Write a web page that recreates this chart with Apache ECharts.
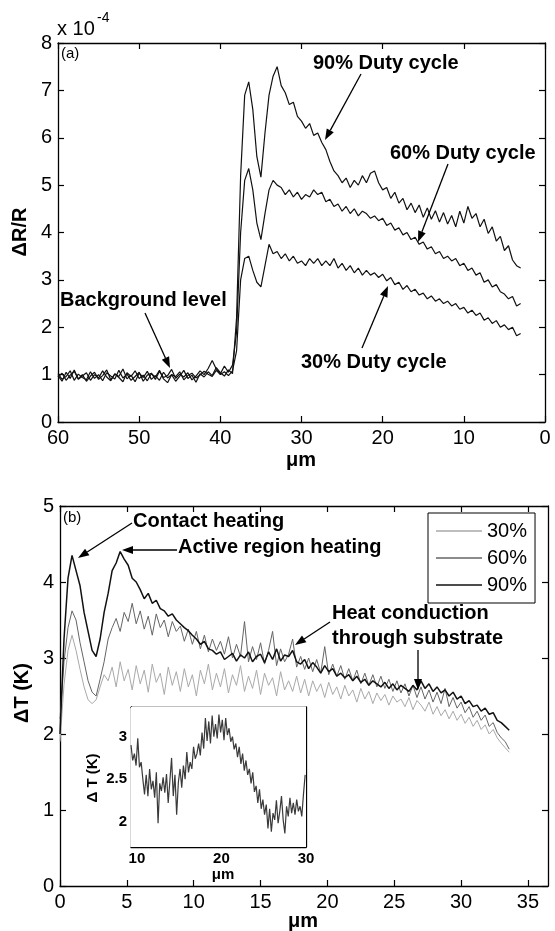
<!DOCTYPE html>
<html>
<head>
<meta charset="utf-8">
<title>Duty cycle thermoreflectance</title>
<script src="https://cdn.jsdelivr.net/npm/echarts@6/dist/echarts.min.js"></script>
<style>
html, body { margin: 0; padding: 0; background: #fff; }
#chart { width: 555px; height: 931px; }
</style>
</head>
<body>
<div id="chart"></div>
<script>
// (a) dR/R (x 1e-4) vs position, x from 60 down to 3 um, step 0.5
var aStart = 60, aStep = -0.5;
var a90 = [
	0.98,0.86,1.05,0.92,1.10,0.90,0.97,1.04,0.88,1.00,
	0.93,1.08,0.95,0.87,1.02,0.96,1.12,0.91,0.99,0.85,
	1.03,0.94,1.07,0.90,0.98,0.88,1.05,0.93,1.00,0.86,
	0.97,1.09,0.92,0.99,0.84,1.02,0.95,1.06,0.98,1.15,
	1.04,0.97,1.10,1.02,2.20,5.20,6.90,7.18,6.60,5.60,
	5.17,6.10,6.90,7.30,7.50,7.10,6.95,6.70,6.75,6.45,
	6.35,6.20,6.30,6.05,6.10,5.90,5.75,5.50,5.30,5.20,
	5.05,5.15,4.95,5.10,5.00,5.20,5.05,5.25,5.30,5.05,
	4.90,4.95,4.72,4.85,4.62,4.72,4.48,4.62,4.42,4.58,
	4.32,4.52,4.28,4.46,4.22,4.42,4.18,4.36,4.12,4.45,
	4.20,4.55,4.30,4.40,4.12,4.28,3.98,4.12,3.82,3.92,
	3.62,3.72,3.42,3.30,3.25
];
var a60 = [
	1.02,0.90,0.96,1.08,0.88,1.01,0.94,0.89,1.06,0.92,
	1.00,0.87,1.04,0.97,0.91,1.09,0.93,1.01,0.88,0.96,
	1.05,0.86,0.99,1.03,0.90,1.07,0.94,0.98,1.11,0.92,
	1.01,0.95,1.04,0.89,0.97,1.08,1.00,1.13,1.30,1.12,
	1.02,1.18,1.05,1.20,1.90,4.00,5.10,5.35,4.90,4.20,
	3.85,4.40,4.90,5.10,5.00,4.95,4.80,4.90,4.75,4.85,
	4.70,4.80,4.75,4.90,4.80,4.85,4.65,4.70,4.55,4.60,
	4.45,4.55,4.40,4.50,4.35,4.45,4.40,4.30,4.35,4.25,
	4.30,4.15,4.20,4.05,4.10,3.95,4.00,3.85,3.90,3.75,
	3.80,3.65,3.70,3.55,3.60,3.45,3.50,3.40,3.45,3.30,
	3.35,3.20,3.25,3.10,3.15,2.95,3.00,2.85,2.90,2.75,
	2.70,2.60,2.65,2.45,2.50
];
var a30 = [
	0.95,1.03,0.88,0.99,1.07,0.91,1.00,0.86,0.97,1.05,
	0.90,0.98,1.10,0.89,1.01,0.94,0.85,1.04,0.96,1.08,
	0.92,0.99,0.87,1.02,0.95,1.09,0.91,0.83,1.00,0.96,
	1.06,0.89,0.98,1.03,0.93,0.99,1.07,1.01,0.96,1.09,
	1.00,1.06,0.98,1.08,1.50,3.00,3.45,3.50,3.20,2.95,
	2.85,3.30,3.75,3.55,3.60,3.45,3.55,3.40,3.50,3.35,
	3.40,3.30,3.45,3.35,3.45,3.30,3.40,3.30,3.45,3.25,
	3.35,3.20,3.30,3.15,3.25,3.10,3.20,3.10,3.15,3.05,
	3.12,2.98,3.05,2.90,2.95,2.80,2.88,2.75,2.80,2.68,
	2.72,2.60,2.66,2.55,2.60,2.50,2.55,2.45,2.50,2.38,
	2.42,2.30,2.36,2.25,2.30,2.15,2.20,2.08,2.14,2.00,
	2.05,1.95,2.00,1.82,1.87
];

// (b) temperature rise vs position, x from 0 um, step 0.3
var bStart = 0, bStep = 0.3;
var b30 = [
	1.90,2.65,3.10,3.30,3.10,2.85,2.62,2.45,2.40,2.45,
	2.62,2.78,2.70,2.88,2.62,2.95,2.70,2.85,2.58,2.90,
	2.66,2.84,2.55,2.92,2.68,2.80,2.52,2.88,2.64,2.82,
	2.56,2.86,2.62,2.78,2.50,2.84,2.66,2.92,2.58,2.80,
	2.62,2.86,2.54,2.78,2.64,2.90,2.56,2.76,2.60,2.84,
	2.52,2.80,2.64,2.74,2.50,2.82,2.58,2.70,2.56,2.76,
	2.54,2.72,2.50,2.70,2.56,2.66,2.48,2.68,2.52,2.62,
	2.46,2.64,2.50,2.58,2.42,2.60,2.46,2.56,2.40,2.54,
	2.44,2.52,2.38,2.50,2.42,2.46,2.36,2.48,2.32,2.44,
	2.38,2.30,2.42,2.26,2.36,2.24,2.32,2.20,2.30,2.18,
	2.26,2.14,2.22,2.10,2.18,2.06,2.12,2.00,2.06,1.95,
	1.88,1.82,1.76
];
var b60 = [
	2.20,2.95,3.40,3.62,3.50,3.20,2.95,2.70,2.55,2.50,
	2.72,2.95,3.25,3.40,3.52,3.35,3.60,3.48,3.72,3.45,
	3.62,3.38,3.55,3.30,3.58,3.40,3.50,3.28,3.48,3.35,
	3.42,3.22,3.38,3.18,3.35,3.12,3.30,3.08,3.25,3.10,
	3.22,3.05,3.28,3.00,3.18,3.02,3.48,2.95,3.15,2.98,
	3.20,2.92,3.10,3.35,2.90,3.12,2.95,3.05,3.25,2.88,
	3.02,2.85,3.00,2.82,2.98,2.80,3.15,2.78,2.92,2.76,
	2.90,2.72,2.86,2.70,2.84,2.66,2.80,2.64,2.78,2.62,
	2.76,2.60,2.72,2.56,2.70,2.54,2.66,2.50,2.64,2.48,
	2.62,2.46,2.58,2.42,2.55,2.40,2.60,2.36,2.48,2.34,
	2.42,2.28,2.36,2.22,2.30,2.18,2.25,2.10,2.15,2.02,
	1.95,1.90,1.80
];
var b90 = [
	2.00,3.25,4.05,4.35,4.15,3.95,3.60,3.35,3.10,3.02,
	3.25,3.60,3.85,4.15,4.25,4.40,4.30,4.22,4.05,4.00,
	3.90,3.78,3.85,3.72,3.76,3.65,3.62,3.55,3.58,3.50,
	3.45,3.40,3.36,3.30,3.25,3.18,3.22,3.12,3.10,3.05,
	3.08,2.98,3.02,3.06,2.96,3.04,3.00,3.08,2.95,3.02,
	3.05,2.94,3.08,2.98,3.12,2.96,3.04,3.02,3.10,2.95,
	2.92,2.98,2.86,2.94,2.88,2.80,2.90,2.82,2.86,2.76,
	2.80,2.74,2.78,2.70,2.76,2.68,2.72,2.64,2.70,2.66,
	2.62,2.68,2.60,2.66,2.58,2.64,2.60,2.56,2.64,2.58,
	2.70,2.60,2.66,2.56,2.62,2.54,2.58,2.50,2.55,2.46,
	2.50,2.40,2.44,2.36,2.38,2.30,2.34,2.26,2.28,2.18,
	2.15,2.10,2.05
];

// inset, x from 9.3 um, step 0.2
var iStart = 9.3, iStep = 0.2;
var inset = [
	2.90,2.72,2.80,2.66,2.98,2.64,2.70,2.50,2.32,2.55,
	2.30,2.62,2.38,2.48,2.28,2.58,1.98,2.45,2.36,2.52,
	2.34,2.56,2.22,2.48,2.75,2.30,2.55,2.08,2.46,2.62,
	2.40,2.66,2.50,2.82,2.58,2.70,2.62,2.88,2.74,2.80,
	2.92,2.78,3.05,2.86,3.22,2.95,3.18,2.92,3.25,3.00,
	3.15,2.98,3.26,3.05,3.20,2.96,3.22,3.02,3.10,2.94,
	3.00,2.85,2.92,2.76,2.88,2.68,2.80,2.60,2.72,2.55,
	2.62,2.45,2.58,2.35,2.42,2.22,2.38,2.15,2.26,2.08,
	2.20,1.92,2.15,1.88,2.10,2.02,2.25,1.98,2.12,2.30,
	2.02,1.86,2.18,2.06,2.28,2.10,2.22,2.08,2.26,2.12,
	2.18,2.06,2.32,2.55
];

var bTicks = [0, 5, 10, 15, 20, 25, 30, 35];
var iTicksX = [10, 20, 30];
var iTicksY = [2, 2.5, 3];

function pairs(start, step, vals) {
	var out = [];
	for (var i = 0; i < vals.length; i++) {
		out.push([+(start + step * i).toFixed(2), vals[i]]);
	}
	return out;
}

var FONT = "'Liberation Sans', Arial, sans-serif";
var axisLineStyle = { color: '#000', width: 1.3 };

function xAx(grid, opt) {
	var o = {
		gridIndex: grid, type: 'value',
		axisLine: { show: true, onZero: false, lineStyle: axisLineStyle },
		axisTick: { show: true, inside: true, length: 6, lineStyle: { color: '#000', width: 1.2 } },
		axisLabel: { color: '#000', fontFamily: FONT, fontSize: 20, margin: 6 },
		splitLine: { show: false }
	};
	for (var k in opt) o[k] = opt[k];
	return o;
}

function arrow(x1, y1, x2, y2) {
	var a = Math.atan2(y2 - y1, x2 - x1), L = 11, W = 4;
	var bx = x2 - L * Math.cos(a), by = y2 - L * Math.sin(a);
	return [{
		type: 'line', z: 100,
		shape: { x1: x1, y1: y1, x2: bx, y2: by },
		style: { stroke: '#000', lineWidth: 1.3 }
	}, {
		type: 'polygon', z: 100,
		shape: { points: [[x2, y2], [bx - W * Math.sin(a), by + W * Math.cos(a)], [bx + W * Math.sin(a), by - W * Math.cos(a)]] },
		style: { fill: '#000' }
	}];
}

function label(txt, x, y, size, bold, extra) {
	var el = {
		type: 'text', x: x, y: y, z: 100,
		style: {
			text: txt, fill: '#000',
			font: (bold ? 'bold ' : '') + size + 'px ' + FONT,
			align: 'left', verticalAlign: 'middle'
		}
	};
	if (extra) for (var k in extra) el.style[k] = extra[k];
	return el;
}

var graphics = [
	label('x 10', 57, 29, 20, false),
	label('-4', 97, 18, 14, false),
	label('(a)', 61, 54, 15, false),
	label('(b)', 63, 518, 15, false),
	label('90% Duty cycle', 313, 63, 20, true),
	label('60% Duty cycle', 390, 153, 20, true),
	label('Background level', 60, 300, 20, true),
	label('30% Duty cycle', 301, 362, 20, true),
	label('Contact heating', 133, 521, 20, true),
	label('Active region heating', 178, 547, 20, true),
	label('Heat conduction', 332, 613, 20, true),
	label('through substrate', 332, 638, 20, true),
	label('\u03bcm', 301, 460, 20, true, { align: 'center' }),
	label('\u03bcm', 303, 921, 20, true, { align: 'center' }),
	label('\u03bcm', 223, 875, 15, true, { align: 'center' }),
	{ type: 'text', x: 20, y: 232, rotation: Math.PI / 2, z: 100,
		style: { text: '\u0394R/R', fill: '#000', font: 'bold 20px ' + FONT, align: 'center', verticalAlign: 'middle' } },
	{ type: 'text', x: 22, y: 693, rotation: Math.PI / 2, z: 100,
		style: { text: '\u0394T (K)', fill: '#000', font: 'bold 20px ' + FONT, align: 'center', verticalAlign: 'middle' } },
	{ type: 'text', x: 93, y: 778, rotation: Math.PI / 2, z: 100,
		style: { text: '\u0394 T (K)', fill: '#000', font: 'bold 15px ' + FONT, align: 'center', verticalAlign: 'middle' } }
]
	.concat(arrow(361, 74, 325, 140))
	.concat(arrow(448, 164, 418, 242))
	.concat(arrow(145, 313, 170, 368))
	.concat(arrow(362, 348, 388, 286))
	.concat(arrow(132, 523, 78, 558))
	.concat(arrow(177, 550, 122, 550))
	.concat(arrow(330, 622, 295, 645))
	.concat(arrow(418, 650, 418, 690));

var chart = echarts.init(document.getElementById('chart'));
var lineBase = { type: 'line', symbol: 'none', showSymbol: false, animation: false };
function ser(name, xi, yi, data, color, width, z) {
	var s = {};
	for (var k in lineBase) s[k] = lineBase[k];
	s.name = name; s.xAxisIndex = xi; s.yAxisIndex = yi; s.data = data;
	s.color = color; s.z = z || 2;
	s.lineStyle = { color: color, width: width };
	return s;
}

var option = {
	backgroundColor: '#fff',
	animation: false,
	grid: [
		{ left: 58, top: 43, width: 487, height: 379 },
		{ left: 60, top: 506, width: 488, height: 380 },
		{ left: 131, top: 707, width: 175, height: 140, show: true, backgroundColor: '#fff', borderWidth: 0, z: 3 }
	],
	legend: {
		data: ['30%', '60%', '90%'],
		orient: 'vertical', left: 428, top: 513,
		padding: [7, 8, 7, 8], itemGap: 5, itemWidth: 46, itemHeight: 1.5,
		icon: 'rect',
		textStyle: { color: '#000', fontFamily: FONT, fontSize: 20, lineHeight: 22 },
		borderColor: '#000', borderWidth: 1, backgroundColor: '#fff'
	},
	xAxis: [
		xAx(0, { position: 'bottom', min: 0, max: 60, interval: 10, inverse: true }),
		xAx(0, { position: 'top', min: 0, max: 60, interval: 10, inverse: true, axisLabel: { show: false } }),
		xAx(1, { position: 'bottom', min: 0, max: 36.5,
			axisTick: { show: true, inside: true, length: 6, customValues: bTicks, lineStyle: { color: '#000', width: 1.2 } },
			axisLabel: { color: '#000', fontFamily: FONT, fontSize: 20, margin: 6, customValues: bTicks } }),
		xAx(1, { position: 'top', min: 0, max: 36.5,
			axisTick: { show: true, inside: true, length: 6, customValues: bTicks, lineStyle: { color: '#000', width: 1.2 } },
			axisLabel: { show: false } }),
		xAx(2, { position: 'bottom', min: 9.3, max: 30,
			axisTick: { show: true, inside: true, length: 4, customValues: iTicksX, lineStyle: { color: '#000' } },
			axisLabel: { color: '#000', fontFamily: FONT, fontSize: 15, fontWeight: 'bold', margin: 4, customValues: iTicksX } }),
		xAx(2, { position: 'top', min: 9.3, max: 30, axisTick: { show: false }, axisLabel: { show: false } })
	],
	yAxis: [
		xAx(0, { position: 'left', min: 0, max: 8, interval: 1, axisLabel: { color: '#000', fontFamily: FONT, fontSize: 20, margin: 6 } }),
		xAx(0, { position: 'right', min: 0, max: 8, interval: 1, axisLabel: { show: false } }),
		xAx(1, { position: 'left', min: 0, max: 5, interval: 1, axisLabel: { color: '#000', fontFamily: FONT, fontSize: 20, margin: 6 } }),
		xAx(1, { position: 'right', min: 0, max: 5, interval: 1, axisLabel: { show: false } }),
		xAx(2, { position: 'left', min: 1.7, max: 3.35,
			axisTick: { show: true, inside: true, length: 4, customValues: iTicksY, lineStyle: { color: '#000' } },
			axisLabel: { color: '#000', fontFamily: FONT, fontSize: 15, fontWeight: 'bold', margin: 4, customValues: iTicksY } }),
		xAx(2, { position: 'right', min: 1.7, max: 3.35, axisTick: { show: false }, axisLabel: { show: false } })
	],
	series: [
		ser('a90', 0, 0, pairs(aStart, aStep, a90), '#111', 1.2),
		ser('a60', 0, 0, pairs(aStart, aStep, a60), '#111', 1.2),
		ser('a30', 0, 0, pairs(aStart, aStep, a30), '#111', 1.2),
		ser('30%', 2, 2, pairs(bStart, bStep, b30), '#a9a9a9', 1),
		ser('60%', 2, 2, pairs(bStart, bStep, b60), '#656565', 1),
		ser('90%', 2, 2, pairs(bStart, bStep, b90), '#111', 1.5),
		ser('inset', 4, 4, pairs(iStart, iStep, inset), '#3a3a3a', 1.2, 5)
	],
	graphic: graphics
};
chart.setOption(option);
</script>
</body>
</html>
